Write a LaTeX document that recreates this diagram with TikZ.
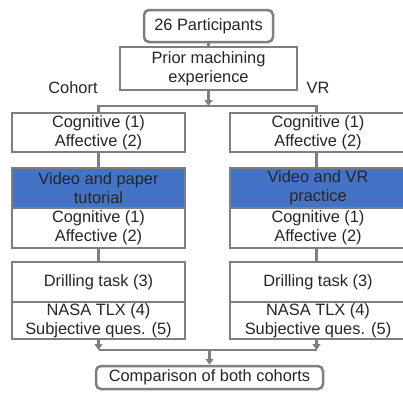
\documentclass[tikz,border=0pt]{standalone}
\usepackage{fontspec}
\setmainfont{Liberation Sans}
\usetikzlibrary{arrows.meta}
\definecolor{linegray}{HTML}{7F7F7F}
\definecolor{boxblue}{HTML}{4472C4}
\definecolor{txt}{HTML}{262626}
\begin{document}
\begin{tikzpicture}[x=1pt,y=-1pt,
  every node/.style={font=\fontsize{16.4}{18.6}\selectfont, text=txt, align=center, inner sep=0pt},
  box/.style={draw=linegray, line width=2.5pt, fill=white, minimum width=173pt},
  bluebox/.style={box, fill=boxblue},
  rbox/.style={draw=linegray, line width=2.5pt, fill=white, rounded corners=5pt},
  conn/.style={draw=linegray, line width=2.5pt},
  arr/.style={conn, -{Triangle[width=8pt,length=6pt]}}]
\useasboundingbox (0,0) rectangle (403,392);
% top
\node[rbox, minimum width=129pt, minimum height=32pt] (p) at (208.5,26) {26 Participants};
\node[box, minimum width=177pt, minimum height=43pt] (m) at (208.5,68.5) {Prior machining\\experience};
\draw[conn] (p.south) -- (m.north);
\coordinate (bar1) at (208.5,106);
\draw[arr] (m.south) -- (bar1);
\node (cohort) at (73,88) {Cohort};
\node (vr) at (318,88) {VR};
% left column
\node[box, minimum height=39pt] (l1) at (98.5,132.5) {Cognitive (1)\\Affective (2)};
\node[bluebox, minimum height=40pt] (l2a) at (98.5,188) {Video and paper\\tutorial};
\node[box, minimum height=40pt] (l2b) at (98.5,228) {Cognitive (1)\\Affective (2)};
\node[box, minimum height=40pt] (l3a) at (98.5,282) {Drilling task (3)};
\node[box, minimum height=37pt] (l3b) at (98.5,320.5) {NASA TLX (4)\\Subjective ques. (5)};
% right column
\node[box, minimum width=176pt, minimum height=39pt] (r1) at (318,132.5) {Cognitive (1)\\Affective (2)};
\node[bluebox, minimum width=176pt, minimum height=40pt] (r2a) at (318,188) {Video and VR\\practice};
\node[box, minimum width=176pt, minimum height=40pt] (r2b) at (318,228) {Cognitive (1)\\Affective (2)};
\node[box, minimum width=176pt, minimum height=40pt] (r3a) at (318,282) {Drilling task (3)};
\node[box, minimum width=176pt, minimum height=37pt] (r3b) at (318,320.5) {NASA TLX (4)\\Subjective ques. (5)};
% bottom
\node[rbox, minimum width=227pt, minimum height=23pt] (c) at (209.5,377.5) {Comparison of both cohorts};
% connectors
\coordinate (rt) at (316.5,113);
\draw[conn] (l1.north) |- (rt |- bar1) -- (rt);
\draw[conn] (l1.south) -- (l2a.north);
\draw[conn] (r1.south -| rt) -- (r2a.north -| rt);
\draw[conn] (l2b.south) -- (l3a.north);
\draw[conn] (r2b.south -| rt) -- (r3a.north -| rt);
\coordinate (bar2l) at (98.5,350);
\coordinate (bar2r) at (316.5,350);
\coordinate (bar2c) at (209.5,350);
\draw[conn] (bar2l) -- (bar2r);
\draw[arr] (l3b.south) -- (bar2l);
\draw[arr] (r3b.south -| rt) -- (bar2r);
\draw[arr] (bar2c) -- (c.north);
\end{tikzpicture}
\end{document}
